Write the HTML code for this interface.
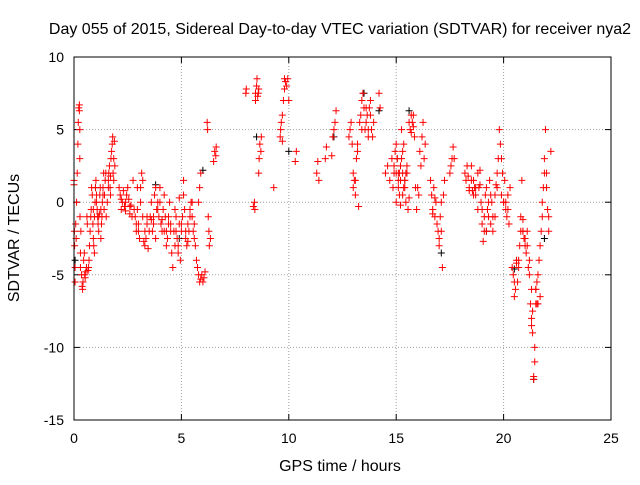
<!DOCTYPE html>
<html><head><meta charset="utf-8"><style>
body{margin:0;background:#fff;}
svg text{font-family:"Liberation Sans",sans-serif;font-size:14px;fill:#000;}
svg text.big{font-size:16px;}
</style></head><body>
<svg id="chart" width="640" height="480" xmlns="http://www.w3.org/2000/svg">
<rect width="640" height="480" fill="#fff"/>
<text class="big" x="340" y="34" text-anchor="middle">Day 055 of 2015, Sidereal Day-to-day VTEC variation (SDTVAR) for receiver nya2</text>
<text class="big" x="340" y="471" text-anchor="middle">GPS time / hours</text>
<text class="big" transform="translate(19,238) rotate(-90)" text-anchor="middle">SDTVAR / TECUs</text>
<g id="grid"></g>
<g id="ticks"></g>
<g id="marks"></g>
<rect x="74" y="57" width="537" height="363" fill="none" stroke="#000" stroke-width="1"/>
</svg>
<script>
const xTicks=[0,5,10,15,20,25];
const yTicks=[10,5,0,-5,-10,-15];
const times=[
0.0,0.0,0.02,0.03,0.05,0.05,0.08,0.1,0.12,0.15,0.18,0.2,0.22,0.25,0.25,0.27,0.28,0.3,0.3,0.32,
0.35,0.38,0.4,0.42,0.45,0.48,0.5,0.52,0.55,0.58,0.6,0.62,0.65,0.68,0.7,
0.72,0.75,0.78,0.8,0.82,0.85,0.88,0.9,0.92,0.95,0.98,1.0,1.02,1.05,1.08,1.1,1.12,1.15,1.18,1.2,1.22,1.25,1.28,1.3,1.32,1.35,1.38,1.4,1.42,1.45,1.48,
1.5,1.55,1.6,1.62,1.65,1.68,1.7,1.72,1.75,1.78,1.8,1.82,1.85,1.88,1.9,
2.1,2.15,2.2,2.25,2.3,2.35,2.4,2.45,2.5,2.55,2.6,2.65,2.7,2.75,2.8,
2.85,2.9,2.95,3.0,3.05,3.1,3.15,3.2,3.25,3.3,3.35,3.4,3.45,3.5,3.1,3.2,2.95,
3.55,3.6,3.65,3.7,3.75,3.8,3.85,3.9,3.95,4.0,4.05,4.1,4.15,4.2,4.25,4.3,4.35,4.4,4.45,4.5,4.55,4.6,3.8,4.0,4.2,4.4,
4.65,4.7,4.75,4.8,4.85,4.9,4.95,5.0,5.05,5.1,5.15,5.2,5.25,5.3,5.35,5.4,5.45,5.5,5.55,5.6,5.65,4.7,4.9,5.1,5.3,5.5,
5.7,5.75,5.8,5.85,5.9,5.95,6.0,6.05,6.1,5.8,5.85,5.9,6.2,6.22,6.25,6.28,6.3,6.35,6.5,6.55,6.6,6.62,
8.0,8.02,8.35,8.4,8.42,8.45,8.5,8.52,8.55,8.58,8.6,8.62,8.65,8.7,8.72,9.3,9.6,9.62,9.65,9.7,9.75,9.8,9.85,9.9,9.95,10.0,10.3,10.35,8.45,9.7,
11.3,11.35,11.4,11.7,11.75,12.0,12.05,12.1,12.15,12.2,12.8,12.85,12.9,12.95,13.0,13.05,13.1,13.15,13.2,13.25,13.3,13.35,13.4,13.45,13.5,13.55,13.6,13.65,13.7,13.75,13.8,13.85,13.9,13.95,14.2,14.25,13.0,13.1,13.2,
14.5,14.6,14.7,14.8,14.85,14.9,14.95,15.0,15.05,15.1,15.15,15.2,15.25,15.3,15.35,15.4,15.45,15.5,15.55,15.6,15.65,15.7,15.75,15.8,15.85,15.9,15.95,16.0,16.05,16.1,16.15,16.2,16.25,16.3,16.35,15.0,15.1,15.2,15.3,15.4,15.5,
16.6,16.65,16.7,16.75,16.8,16.85,16.9,16.95,17.0,17.05,17.1,17.15,17.2,17.25,17.5,17.55,17.6,17.65,17.7,16.7,17.0,
18.2,18.25,18.3,18.35,18.4,18.5,18.55,18.6,18.65,18.7,18.8,18.85,18.9,18.95,19.0,19.05,19.1,19.15,19.2,19.25,19.3,19.35,19.4,19.45,19.5,19.6,19.65,19.7,19.75,19.8,19.85,19.9,19.95,20.0,20.05,20.1,20.15,20.2,20.25,20.3,18.4,18.8,19.2,19.6,20.0,
20.4,20.45,20.5,20.55,20.6,20.65,20.7,20.75,20.8,20.85,20.9,20.95,21.0,21.05,21.1,21.15,21.2,21.25,21.3,21.35,21.4,21.45,21.5,21.55,21.6,21.65,21.7,21.75,21.8,21.85,21.9,21.95,22.0,22.05,22.1,22.2,20.6,20.9,21.3,21.4,21.5,
0.27,0.9,0.95,1.05,1.15,1.25,1.35,1.6,1.7,1.85,2.2,2.4,2.6,2.9,3.0,3.3,3.4,3.6,3.7,3.9,4.1,4.3,4.5,4.75,4.85,5.0,5.2,5.4,5.6,8.6,9.8,13.4,13.6,13.7,13.8,
14.9,15.0,15.05,15.1,15.15,15.2,15.25,15.3,15.35,15.4,15.45,15.6,15.7,15.8,16.8,17.1,18.5,18.6,18.7,18.9,19.0,19.1,19.3,19.4,19.5,19.7,19.9,20.1,20.2,
20.5,20.7,20.8,20.9,21.0,21.1,21.2,21.3,21.35,21.45,21.5,21.55,21.6,21.7,21.8,21.9,22.0,22.1];
const vtec=[
1.2,1.5,-2,-3,-4.5,-5.5,-1.5,-2.5,0,2,4,5.5,6.5,6.7,6.3,3,-1,-3.5,-4.5,-2,
-5,-5.8,-6,-5.5,-4,-3.5,-5,-5.2,-4.8,-4.5,-1,-1.5,-4.7,-4.5,-4,
-3,-2,-1,-0.5,1,0.5,-1.5,-2.5,-3,-3.5,0,1,1.5,0.5,-0.5,-1,-1.5,-2,-0.8,0.5,1,-2.5,-1.5,-1,0,1,2,-0.5,0.5,1.5,2,
-1,0,1,2,2.5,1,0.5,3,3.5,4,4.5,2,1.5,4.2,2.5,
1,0.5,-0.5,0,0.8,-0.3,-0.6,0.5,1,0.2,-0.8,-0.2,-1,1.5,-0.5,
-1,-1.5,-0.5,-2,-2.5,1,2,1.5,-2.7,-3,-2.5,-1.5,-3.2,-2,0,-1,1,
-1,0,-2,-1.5,0.5,1,-0.5,0,-1,0,-1.5,-2,-0.5,0.5,-1,-3,-2.5,-1,0,-2,-3.5,-4.5,-2.5,1,-2,-1.5,
-2,-3,-1,-2.5,-3.5,-1.5,-4,-2,-1,1.5,-0.5,-2.5,-3,-1.5,-2,-0.5,0,-1,-2,-1.5,-3,-0.5,0.3,0.5,-2.7,0,
-4,-4.5,-5,-5.5,-5.3,-5,-5.5,-5.2,-4.8,0,1,2,5.5,5,-1,-2,-3,-2.5,2.8,3.5,3.2,3.8,
7.5,7.8,-0.3,0,-0.5,7,8,8.5,7.3,7.5,2,3,4,3.5,4.5,1,4.5,5,5.5,6,7,8.5,8.3,8,8.5,7,2.8,3.5,7.5,4.2,
2,2.8,1.5,3,3.8,3.2,4.5,5,5.5,6.3,4.5,5,5.5,4,2,1.5,0.5,3,4,-0.3,5.5,6,7,7.5,6.5,5,5.5,6,4.5,6.5,7,5,4.5,5.5,7.5,6.5,1,1.5,3.5,
2,2.5,1.5,3,1,2,3.5,4,3,1.5,0.5,2.5,5,0.5,4,1,0,2,-0.5,0.3,5,6,5.5,6,4.5,1,-0.5,1,0.5,3.5,2.5,4.5,5.5,3,4,0,2,-0.2,3.5,1.5,2.5,
1.5,0.5,-0.5,1,-1,0,-1.5,-2,-3,-1,0,-4.5,0.5,1.5,2,2.5,3,3.8,3,-0.8,-2.5,
2,1.5,2.5,1.8,1,2.5,0.8,1.5,1,0.5,-0.5,1,2.2,0,-1.5,-2.7,-1,0.5,1,-0.5,0,1.5,-1.5,0,-2,0.5,1.2,2,3,5,4,3,2,0,1.5,-0.5,-1,0.5,-1.5,1,0.8,2,-2,-1,0,
-4.5,-5,-6.5,-6,-4,-5.5,-4,-3,-1,1.5,-2,-2.5,-3,-3.5,-2,-4.5,-5,-7,-8,-9,-12,-10,-6,-7,-5,-4,-6.5,-2,-1,1,3,5,2,-0.5,-2,3.5,-4.2,-1.2,-8.5,-12.2,-6,
5,-0.5,-1,0,-1,-0.5,0.5,1.5,1.8,3,0.2,0,-0.3,-2,-1.5,-2,-1,-1.2,-1,-0.5,-1.2,-2,-1.5,-2,-3,-1.5,-2,-1,-2.5,7.8,7.8,5,6.5,5,6,
2.5,2,3,1,2,1.5,3,2,1,1.5,2,5.5,4.8,5.2,0.3,-2,1.5,0.5,1,1.2,-0.5,-2,-1,0.5,-1,1,0.5,0,-0.5,
-5.5,-4.5,-2,-2,-2.5,-3,-4,-6,-7.5,-11,-7,-5.5,-7,-3,0,2,1,-1];
const blackTimes=[0.05,1.0,3.8,4.9,6.0,8.5,10.0,12.1,13.5,14.2,15.6,17.1,19.2,20.5,21.4,21.9];
const blackVals=[-4,1,1.2,-2.5,2.2,4.5,3.5,4.5,7.5,6.3,6.3,-3.5,-2,-4.6,-12.2,-2.5];

const X0=74,X1=611,Y0=420,Y1=57;
const xs=t=>X0+(t-0)/(25-0)*(X1-X0);
const ys=v=>Y0-(v-(-15))/(10-(-15))*(Y0-Y1);
const NS='http://www.w3.org/2000/svg';
const grid=document.getElementById('grid'),ticks=document.getElementById('ticks'),marks=document.getElementById('marks');
function mk(tag,attrs,parent){const e=document.createElementNS(NS,tag);for(const k in attrs)e.setAttribute(k,attrs[k]);parent.appendChild(e);return e;}
xTicks.forEach(t=>{
  const x=xs(t);
  if(t>0&&t<25){const g=mk('line',{x1:x,x2:x,y1:Y1,y2:Y0,stroke:'#a0a0a0','stroke-dasharray':'1,2'},grid);
  
  }
  mk('line',{x1:x,x2:x,y1:Y0,y2:Y0-6,stroke:'#000'},ticks);
  mk('line',{x1:x,x2:x,y1:Y1,y2:Y1+6,stroke:'#000'},ticks);
  const l=mk('text',{x:x,y:Y0+23,'text-anchor':'middle'},ticks);l.textContent=t;
  
  
});
yTicks.forEach(v=>{
  const y=ys(v);
  if(v>-15&&v<10){const g=mk('line',{x1:X0,x2:X1,y1:y,y2:y,stroke:'#a0a0a0','stroke-dasharray':'1,2'},grid);
  
  }
  mk('line',{x1:X0,x2:X0+6,y1:y,y2:y,stroke:'#000'},ticks);
  mk('line',{x1:X1,x2:X1-6,y1:y,y2:y,stroke:'#000'},ticks);
  const l=mk('text',{x:X0-10,y:y+5,'text-anchor':'end'},ticks);l.textContent=v;
  
  
});
function plus(t,v,color){
  const x=xs(t),y=ys(v);
  return mk('path',{d:`M${x-3.5},${y}h7M${x},${y-3.5}v7`,stroke:color,'stroke-width':1,fill:'none'},marks);
}
blackTimes.forEach((t,i)=>{const p=plus(t,blackVals[i],'#000');
  
  });
times.forEach((t,i)=>{const p=plus(t,vtec[i],'#ff0000');
  
  });
</script>
</body></html>
